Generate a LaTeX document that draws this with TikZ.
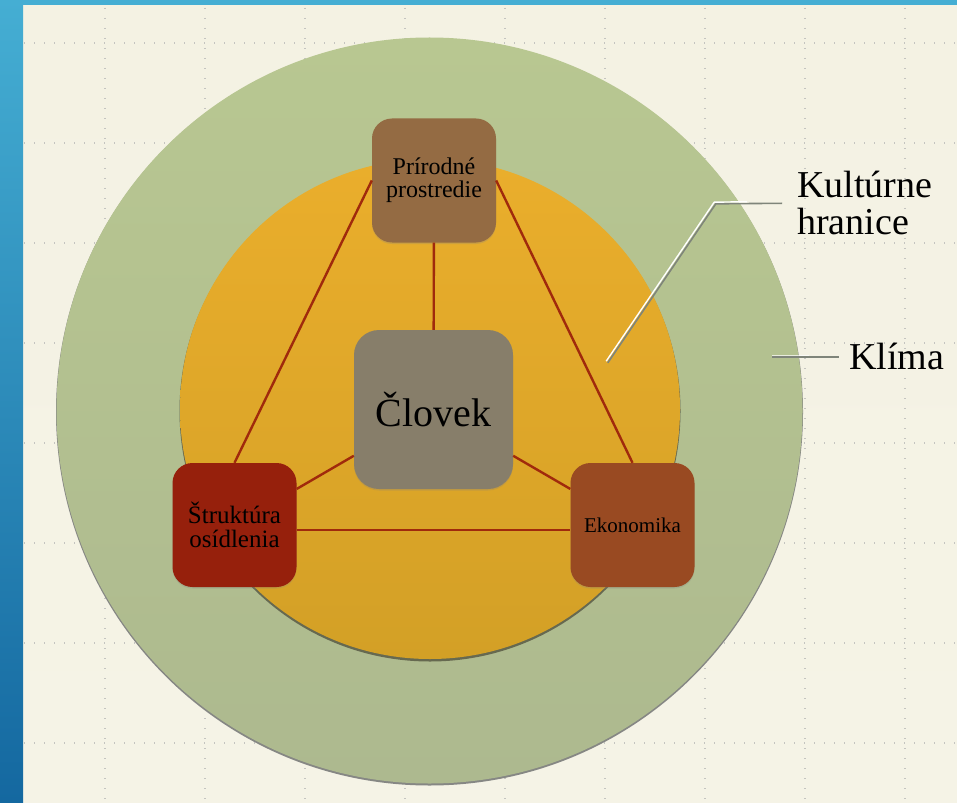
\documentclass[tikz,border=0pt]{standalone}
\usepackage{fontspec}
\setmainfont{Liberation Serif}
\usetikzlibrary{shadows}
\definecolor{blueTop}{HTML}{45AED3}
\definecolor{blueBot}{HTML}{1468A0}
\definecolor{bgTop}{HTML}{F4F2E3}
\definecolor{bgMid}{HTML}{FCFCF9}
\definecolor{bgBot}{HTML}{F5F3E6}
\definecolor{gridC}{HTML}{C4C4C0}
\definecolor{greenTop}{HTML}{B8C791}
\definecolor{greenBot}{HTML}{ADB98F}
\definecolor{greenShadow}{HTML}{868784}
\definecolor{orTop}{HTML}{EAAE2C}
\definecolor{orBot}{HTML}{D3A026}
\definecolor{orShadow}{HTML}{5A5B46}
\definecolor{prC}{HTML}{946B43}
\definecolor{clC}{HTML}{877E6A}
\definecolor{stC}{HTML}{96200C}
\definecolor{ekC}{HTML}{994A22}
\definecolor{lineC}{HTML}{A02A0C}
\definecolor{leadC}{HTML}{7F857A}
\tikzset{
  gridline/.style={draw=gridC, line width=1.3pt, dash pattern=on 1.3pt off 8.7pt},
  box/.style={rounded corners=20pt, minimum size=124pt, align=center, text=black,
    inner sep=2pt, drop shadow={opacity=.25, shadow xshift=0pt, shadow yshift=-1.5pt}},
  conn/.style={draw=lineC, line width=2.4pt},
  callout/.style={font=\fontsize{38}{37}\selectfont, text=black, inner sep=0pt, align=left},
  leadgrey/.style={draw=leadC, line width=1.6pt},
  leadwhite/.style={draw=white, line width=1.4pt}
}
\begin{document}
\begin{tikzpicture}[x=1pt,y=-1pt]
\useasboundingbox (0,0) rectangle (957,802);
% frame and background
\shade[top color=bgTop, middle color=bgMid, bottom color=bgBot] (23,5) rectangle (957,802);
\shade[top color=blueTop, bottom color=blueBot] (0,0) rectangle (23,802);
\fill[blueTop] (0,0) rectangle (957,5);
% dotted grid
\foreach \gx in {105,205,...,905} \draw[gridline] (\gx,8) -- (\gx,802);
\foreach \gy in {43,143,...,743} \draw[gridline] (24,\gy) -- (957,\gy);
% circles
\fill[greenShadow] (429.5,412) circle (373.5pt);
\shade[top color=greenTop, bottom color=greenBot] (429.5,410.5) circle (373pt);
\fill[orShadow, opacity=.85] (430,411) circle (250.5pt);
\shade[top color=orTop, bottom color=orBot] (430,409) circle (250pt);
% nodes
\node[box, fill=prC, font=\fontsize{24}{23}\selectfont] (pr) at (434,180.5) {Prírodné\\prostredie};
\node[box, fill=clC, minimum size=159pt, rounded corners=25pt, font=\fontsize{40}{44}\selectfont] (cl) at (433.5,409.5) {Človek};
\node[box, fill=stC, font=\fontsize{25}{24}\selectfont] (st) at (234.5,525) {Štruktúra\\osídlenia};
\node[box, fill=ekC, font=\fontsize{21}{24}\selectfont] (ek) at (632.5,525) {Ekonomika};
% connectors
\draw[conn] (pr) -- (cl);
\draw[conn] (cl) -- (st);
\draw[conn] (cl) -- (ek);
\draw[conn] (pr.west) -- (st.north);
\draw[conn] (pr.east) -- (ek.north);
\draw[conn] ([yshift=-5pt]st.east) -- ([yshift=-5pt]ek.west);
% callouts
\node[callout, anchor=west] (kh) at (797,202.5) {Kultúrne\\hranice};
\node[callout, anchor=west] (kl) at (849,356) {Klíma};
\coordinate (kha) at (607,362);
\coordinate (khb) at (715,203);
\coordinate (kla) at (772,356);
\draw[leadgrey] ([shift={(0.8pt,-0.8pt)}]kha) -- ([shift={(0.8pt,-0.8pt)}]khb) -- ([shift={(-15pt,-0.8pt)}]kh.west);
\draw[leadwhite] ([shift={(-0.8pt,0.8pt)}]kha) -- ([shift={(-0.8pt,0.8pt)}]khb) -- ([shift={(-50pt,0.8pt)}]kh.west);
\draw[leadgrey] ([yshift=-0.8pt]kla) -- ([shift={(-10pt,-0.8pt)}]kl.west);
\draw[leadwhite, opacity=.7] ([yshift=0.8pt]kla) -- ([shift={(-40pt,0.8pt)}]kl.west);
\end{tikzpicture}
\end{document}
